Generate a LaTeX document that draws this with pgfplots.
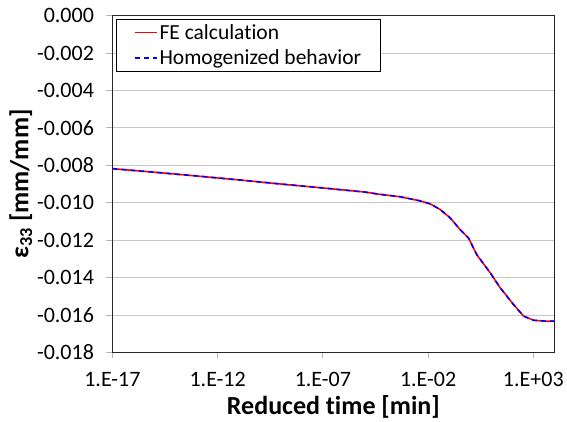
\documentclass[border=0pt]{standalone}
\usepackage{fontspec}
\setmainfont{Carlito}[Ligatures={NoCommon}]
\usepackage{pgfplots}
\usepackage{pgfplotstable}
\pgfplotsset{compat=1.18}

% reduced time [min] vs eps33 [mm/mm]
\pgfplotstableread{
t        e
1e-17    -0.00818
1e-15    -0.00837
1e-13    -0.00857
1e-11    -0.00878
1e-9     -0.00900
1e-7     -0.00921
1e-5     -0.00943
5.01e-5  -0.00955
4.68e-4  -0.00968
4.17e-3  -0.00990
1.26e-2  -0.01006
3.72e-2  -0.01036
0.112    -0.01081
0.331    -0.01143
0.832    -0.01188
2.04     -0.01277
8.91     -0.01374
26.9     -0.01455
115      -0.01544
347      -0.01606
1047     -0.01628
3162     -0.01632
10000    -0.01633
}\fedata

\definecolor{gridgray}{RGB}{200,200,200}
\definecolor{tickgray}{RGB}{180,180,180}

\begin{document}
\begin{tikzpicture}
\begin{axis}[
    scale only axis,
    width=442pt, height=337pt,
    xmode=log,
    xmin=1e-17, xmax=1e4,
    ymin=-0.018, ymax=0,
    xtick={1e-17,1e-12,1e-7,1e-2,1e3},
    xticklabels={1.E-17,1.E-12,1.E-07,1.E-02,1.E+03},
    ytick={-0.018,-0.016,-0.014,-0.012,-0.010,-0.008,-0.006,-0.004,-0.002,0},
    yticklabels={-0.018,-0.016,-0.014,-0.012,-0.010,-0.008,-0.006,-0.004,-0.002,0.000},
    scaled y ticks=false,
    minor tick num=0,
    xminorticks=false,
    tick align=outside,
    major tick length=6pt,
    xtick pos=bottom, ytick pos=left,
    tick style={tickgray, line width=0.8pt},
    ymajorgrids=true,
    grid style={gridgray, line width=0.8pt},
    axis line style={black!85, line width=1pt},
    ticklabel style={font=\fontsize{22}{25}\selectfont},
    xticklabel style={yshift=-10pt},
    yticklabel style={xshift=-9pt},
    xlabel={\textbf{Reduced time [min]}},
    ylabel={\textbf{ε\textsubscript{33} [mm/mm]}},
    label style={font=\fontsize{26}{29}\selectfont},
    xlabel style={yshift=-2pt},
    ylabel style={yshift=-2pt},
    legend style={at={(0.009,0.99)}, anchor=north west, draw=black,
        line width=0.7pt,
        font=\fontsize{21.5}{25}\selectfont,
        inner xsep=17pt, inner ysep=3pt, row sep=5pt},
    legend cell align=left,
    legend image code/.code={\draw[#1, line width=1.8pt] (0pt,0pt) -- (22pt,0pt);},
]
\addplot[color=red, line width=1.6pt] table[x=t, y=e] {\fedata};
\addlegendentry{FE calculation}
\addplot[color=blue, line width=1.6pt, dash pattern=on 5pt off 4pt] table[x=t, y=e] {\fedata};
\addlegendentry{Homogenized behavior}
\end{axis}
\path ([yshift=5pt]current bounding box.north west) -- ([xshift=-6pt]current bounding box.south west);
\end{tikzpicture}
\end{document}
